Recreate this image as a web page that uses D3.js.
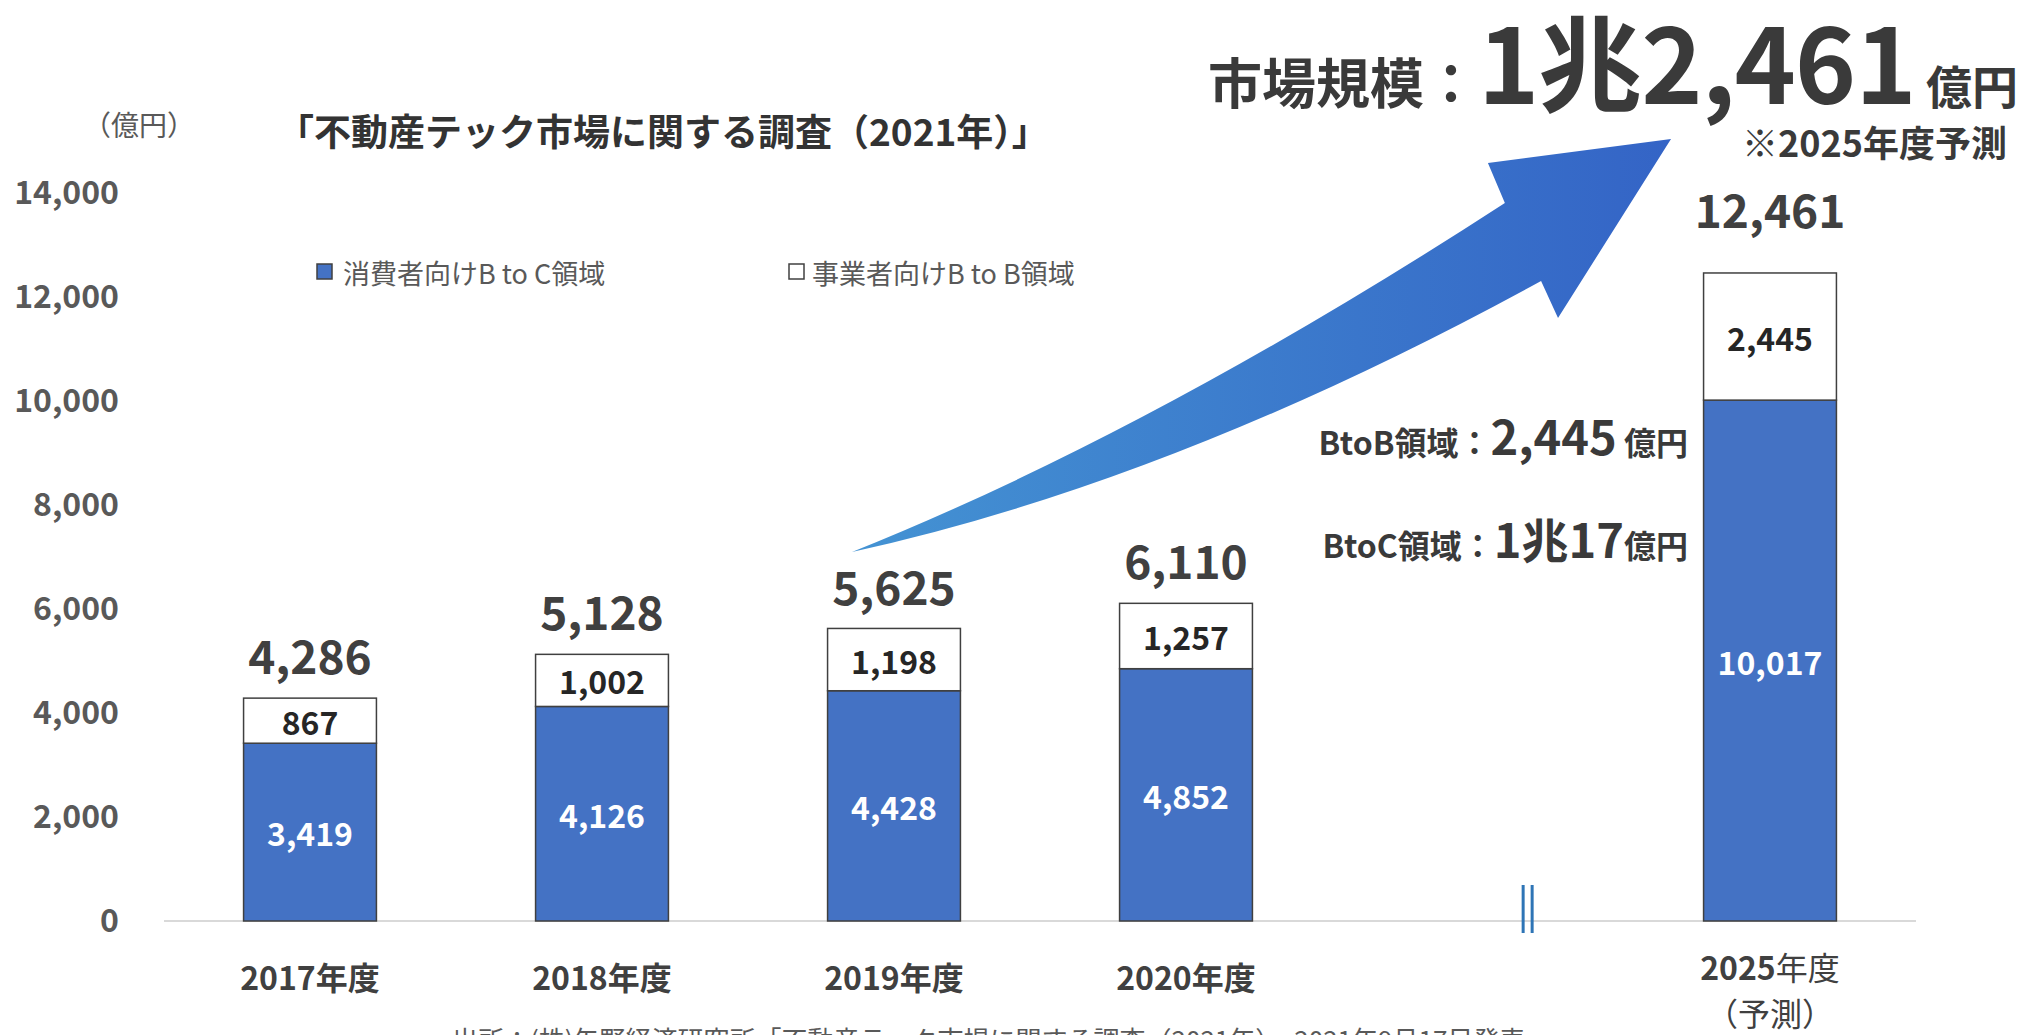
<!DOCTYPE html>
<html>
<head>
<meta charset="utf-8">
<script src="https://cdn.jsdelivr.net/npm/d3@7"></script>
<style>
  html, body { margin: 0; padding: 0; background: #fff; }
  svg { display: block; font-family: 'Noto Sans CJK JP', 'Noto Sans', sans-serif; }
</style>
</head>
<body>
<svg id="chart"></svg>
<script>
var width = 2027;
var height = 1035;

// data
var slots = ['2017年度', '2018年度', '2019年度', '2020年度', 'gap', '2025年度'];
var years = ['2017年度', '2018年度', '2019年度', '2020年度', '2025年度'];
var btocValues = [3419, 4126, 4428, 4852, 10017];
var btobValues = [867, 1002, 1198, 1257, 2445];
var totalValues = [4286, 5128, 5625, 6110, 12461];
var yTicks = [0, 2000, 4000, 6000, 8000, 10000, 12000, 14000];
var legendLabels = ['消費者向けB to C領域', '事業者向けB to B領域'];

var data = years.map(function(d, i) {
  return { year: d, btoc: btocValues[i], btob: btobValues[i], total: totalValues[i], forecast: d === '2025年度' };
});

var fmt = d3.format(',');
var blue = '#4472c4';
var dark = '#404040';
var gray = '#595959';

var svg = d3.select('#chart').attr('width', width).attr('height', height);

var x = d3.scaleBand().domain(slots).range([164, 1916]).paddingInner(0.545).paddingOuter(0.2725);
var y = d3.scaleLinear().domain([0, 14000]).range([921, 193]);
var center = function(name) { return x(name) + x.bandwidth() / 2; };
// slot position (0..5) -> pixel, used for annotations
var xi = d3.scaleLinear().domain([0, 5]).range([center(slots[0]), center(slots[5])]);

// gradient for the arrow
var defs = svg.append('defs');
var grad = defs.append('linearGradient').attr('id', 'arrowGrad')
  .attr('x1', '0%').attr('y1', '0%').attr('x2', '100%').attr('y2', '0%');
grad.append('stop').attr('offset', '0%').attr('stop-color', '#4493d3');
grad.append('stop').attr('offset', '100%').attr('stop-color', '#3464c6');

// y axis
var yAxis = svg.append('g')
  .attr('transform', 'translate(127,0)')
  .call(d3.axisLeft(y).tickValues(yTicks).tickSize(0).tickPadding(8).tickFormat(fmt));
yAxis.select('.domain').remove();
yAxis.selectAll('text')
  .attr('fill', gray)
  .style('font-size', '32px')
  .style('font-weight', 'bold')
  .style('font-family', "'Noto Sans CJK JP', 'Noto Sans', sans-serif");

// x baseline
svg.append('line')
  .attr('x1', x.range()[0]).attr('x2', x.range()[1])
  .attr('y1', y(0)).attr('y2', y(0))
  .attr('stroke', '#d9d9d9').attr('stroke-width', 2);

// bars
var bars = svg.selectAll('.bar').data(data).enter().append('g').classed('bar', true);
bars.append('rect')
  .attr('x', function(d) { return x(d.year); })
  .attr('y', function(d) { return y(d.btoc); })
  .attr('width', x.bandwidth())
  .attr('height', function(d) { return y(0) - y(d.btoc); })
  .attr('fill', blue).attr('stroke', dark).attr('stroke-width', 1.5);
bars.append('rect')
  .attr('x', function(d) { return x(d.year); })
  .attr('y', function(d) { return y(d.btoc + d.btob); })
  .attr('width', x.bandwidth())
  .attr('height', function(d) { return y(d.btoc) - y(d.btoc + d.btob); })
  .attr('fill', '#fff').attr('stroke', dark).attr('stroke-width', 1.5);

bars.append('text')
  .attr('x', function(d) { return center(d.year); })
  .attr('y', function(d) { return (y(0) + y(d.btoc)) / 2; })
  .attr('text-anchor', 'middle').attr('dominant-baseline', 'central')
  .attr('fill', '#fff').style('font-size', '32px').style('font-weight', 'bold')
  .text(function(d) { return fmt(d.btoc); });
bars.append('text')
  .attr('x', function(d) { return center(d.year); })
  .attr('y', function(d) { return (y(d.btoc) + y(d.btoc + d.btob)) / 2; })
  .attr('text-anchor', 'middle').attr('dominant-baseline', 'central')
  .attr('fill', '#262626').style('font-size', '32px').style('font-weight', 'bold')
  .text(function(d) { return fmt(d.btob); });
bars.append('text')
  .attr('x', function(d) { return center(d.year); })
  .attr('y', function(d) { return y(d.total) - (d.forecast ? 45 : 24); })
  .attr('text-anchor', 'middle')
  .attr('fill', dark).style('font-size', '46px').style('font-weight', 'bold')
  .text(function(d) { return fmt(d.total); });

// x labels
var xLabels = svg.selectAll('.x-label').data(data).enter().append('text')
  .classed('x-label', true)
  .attr('x', function(d) { return center(d.year); })
  .attr('y', function(d) { return d.forecast ? 980 : 990; })
  .attr('text-anchor', 'middle')
  .attr('fill', dark).style('font-size', '32px');
xLabels.append('tspan').style('font-weight', 'bold')
  .text(function(d) { return d.year.replace('年度', ''); });
xLabels.append('tspan').style('font-weight', function(d) { return d.forecast ? 'normal' : 'bold'; })
  .text('年度');
svg.append('text')
  .attr('x', center('2025年度')).attr('y', 1026)
  .attr('text-anchor', 'middle').attr('fill', dark).style('font-size', '32px')
  .text('（予測）');

// axis break mark
[-4.5, 4.5].forEach(function(dx) {
  svg.append('line')
    .attr('x1', xi(4.17) + dx).attr('x2', xi(4.17) + dx)
    .attr('y1', y(0) - 36).attr('y2', y(0) + 12)
    .attr('stroke', '#2e75b6').attr('stroke-width', 3);
});

// unit + title
svg.append('text')
  .attr('x', 139).attr('y', 124)
  .attr('text-anchor', 'middle').attr('dominant-baseline', 'central')
  .attr('fill', gray).style('font-size', '28px')
  .text('（億円）');
svg.append('text')
  .attr('x', 277).attr('y', 130)
  .attr('dominant-baseline', 'central')
  .attr('fill', '#333').style('font-size', '37px').style('font-weight', 'bold')
  .text('「不動産テック市場に関する調査（2021年）」');

// legend
var legend = svg.selectAll('.legend').data(legendLabels).enter().append('g')
  .classed('legend', true)
  .attr('transform', function(d, i) { return 'translate(' + [317, 789][i] + ',272)'; });
legend.append('rect')
  .attr('x', 0).attr('y', -8).attr('width', 15).attr('height', 15)
  .attr('fill', function(d, i) { return i === 0 ? blue : '#fff'; })
  .attr('stroke', dark).attr('stroke-width', 1.5);
legend.append('text')
  .attr('x', function(d, i) { return i === 0 ? 26 : 23; }).attr('y', 0)
  .attr('dominant-baseline', 'central')
  .attr('fill', gray).style('font-size', '27px')
  .text(function(d) { return d; });

// curved arrow, points given as [slot position, value]
var pt = function(p) { return [xi(p[0]), y(p[1])]; };
var tail = pt([1.856, 7096]);
var upCtrl = pt([2.890, 9423]);
var upEnd = pt([4.092, 13808]);
var headL = pt([4.034, 14577]);
var tip = pt([4.661, 15038]);
var headR = pt([4.274, 11596]);
var lowEnd = pt([4.216, 12308]);
var lowCtrl = pt([2.966, 8462]);
var arrowPath = d3.path();
arrowPath.moveTo(tail[0], tail[1]);
arrowPath.quadraticCurveTo(upCtrl[0], upCtrl[1], upEnd[0], upEnd[1]);
arrowPath.lineTo(headL[0], headL[1]);
arrowPath.lineTo(tip[0], tip[1]);
arrowPath.lineTo(headR[0], headR[1]);
arrowPath.lineTo(lowEnd[0], lowEnd[1]);
arrowPath.quadraticCurveTo(lowCtrl[0], lowCtrl[1], tail[0], tail[1]);
arrowPath.closePath();
svg.append('path').attr('d', arrowPath.toString()).attr('fill', 'url(#arrowGrad)');

// headline
var head = svg.append('text')
  .attr('x', 2018).attr('y', 104)
  .attr('text-anchor', 'end')
  .attr('fill', '#3a3a3a').style('font-weight', 'bold');
head.append('tspan').style('font-size', '54px').text('市場規模：');
head.append('tspan').style('font-size', '104px').style('letter-spacing', '-1px').text('1兆2,461');
head.append('tspan').style('font-size', '46px').text('  億円');
svg.append('text')
  .attr('x', 2007).attr('y', 157)
  .attr('text-anchor', 'end')
  .attr('fill', '#3a3a3a').style('font-size', '36px').style('font-weight', 'bold')
  .text('※2025年度予測');

// segment callouts
var btobNote = svg.append('text')
  .attr('x', 1688).attr('y', 455).attr('text-anchor', 'end')
  .attr('fill', '#3a3a3a').style('font-weight', 'bold');
btobNote.append('tspan').style('font-size', '32px').text('BtoB領域：');
btobNote.append('tspan').style('font-size', '47px').text(fmt(btobValues[4]));
btobNote.append('tspan').style('font-size', '32px').text(' 億円');
var btocNote = svg.append('text')
  .attr('x', 1688).attr('y', 558).attr('text-anchor', 'end')
  .attr('fill', '#3a3a3a').style('font-weight', 'bold');
btocNote.append('tspan').style('font-size', '32px').text('BtoC領域：');
btocNote.append('tspan').style('font-size', '47px').text('1兆17');
btocNote.append('tspan').style('font-size', '32px').text('億円');

// source (cut off at the bottom edge)
svg.append('text')
  .attr('x', 452).attr('y', 1050)
  .attr('fill', gray).style('font-size', '26px')
  .text('出所：(株)矢野経済研究所「不動産テック市場に関する調査（2021年）」2021年9月17日発表');
</script>
</body>
</html>
